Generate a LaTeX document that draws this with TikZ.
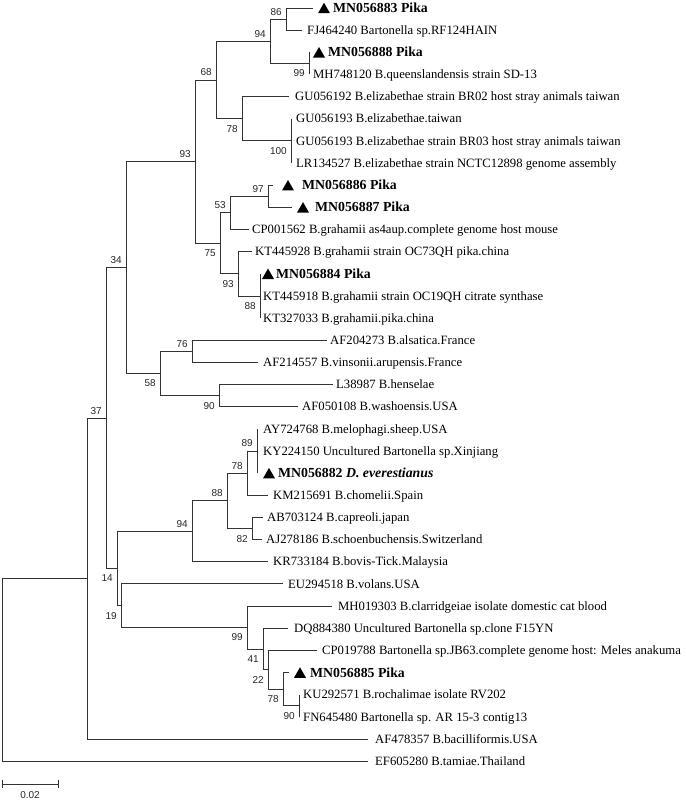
\documentclass[tikz,border=0pt]{standalone}
\usepackage{fontspec}
\setmainfont{Liberation Serif}
\newfontfamily\bsfamily{Liberation Sans}
\newcommand\pikatri[2]{\fill[black] (#1,#2) ++(0,5.25) -- ++(12,0) -- ++(-6,-10.5) -- cycle;}
\begin{document}
\begin{tikzpicture}[x=1pt,y=-1pt,
  br/.style={line width=0.9pt,draw=black!80},
  leaf/.style={anchor=west,inner sep=0pt,font=\fontsize{12.7}{14}\selectfont,text height=8.4pt,text depth=0pt},
  leafb/.style={anchor=west,inner sep=0pt,font=\fontsize{13.8}{15}\selectfont\bfseries,text height=9.1pt,text depth=0pt},
  bs/.style={anchor=east,inner sep=0pt,font=\bsfamily\fontsize{10}{12}\selectfont,text depth=0pt,text=black!85},
  up/.style={shift={(-4,-7.5)}},
  dn/.style={shift={(-4,10)}}]
\useasboundingbox (0,0) rectangle (685,800);
% internal nodes
\coordinate (root) at (2,669.8);
\coordinate (nA) at (87,578.5);
\coordinate (n37) at (106,418.04);
\coordinate (n34) at (126,267.58);
\coordinate (n93a) at (195,161.67);
\coordinate (n68) at (216,79.99);
\coordinate (n94a) at (270,41.23);
\coordinate (n86) at (286,19.08);
\coordinate (n99a) at (309,63.38);
\coordinate (n78a) at (242,118.75);
\coordinate (n100) at (291,140.9);
\coordinate (n75) at (220,243.35);
\coordinate (n53) at (230,212.89);
\coordinate (n97) at (268,196.28);
\coordinate (n93b) at (238,273.8);
\coordinate (n88a) at (260,295.95);
\coordinate (n58) at (160,373.48);
\coordinate (n76) at (192,351.33);
\coordinate (n90a) at (219,395.63);
\coordinate (n14) at (117,568.5);
\coordinate (n94b) at (192,531.3);
\coordinate (n88b) at (227,500.84);
\coordinate (n78b) at (247,473.15);
\coordinate (n89) at (257,451);
\coordinate (n82) at (252,528.53);
\coordinate (n19) at (121,605.7);
\coordinate (n99b) at (247,627.5);
\coordinate (n41) at (263,648.96);
\coordinate (n22) at (268,669.73);
\coordinate (n78c) at (283,689.11);
\coordinate (n90b) at (299,705.73);
% leaf branch ends
\coordinate (e1) at (313,8);
\coordinate (e2) at (302,30.15);
\coordinate (e3) at (309,52.3);
\coordinate (e4) at (309,74.45);
\coordinate (e5) at (289,96.6);
\coordinate (e6) at (291,118.75);
\coordinate (e7) at (291,140.9);
\coordinate (e8) at (291,163.05);
\coordinate (e9) at (273,185.2);
\coordinate (e10) at (292,207.35);
\coordinate (e11) at (249,229.5);
\coordinate (e12) at (252,251.65);
\coordinate (e13) at (260,273.8);
\coordinate (e14) at (260,295.95);
\coordinate (e15) at (260,318.1);
\coordinate (e16) at (327,340.25);
\coordinate (e17) at (258,362.4);
\coordinate (e18) at (333,384.55);
\coordinate (e19) at (298,406.7);
\coordinate (e20) at (257,428.85);
\coordinate (e21) at (257,451);
\coordinate (e22) at (257,473.15);
\coordinate (e23) at (268,495.3);
\coordinate (e24) at (263,517.45);
\coordinate (e25) at (262,539.6);
\coordinate (e26) at (268,561.75);
\coordinate (e27) at (283,583.9);
\coordinate (e28) at (332,606.05);
\coordinate (e29) at (288,628.2);
\coordinate (e30) at (317,650.35);
\coordinate (e31) at (289,672.5);
\coordinate (e32) at (299,694.65);
\coordinate (e33) at (299,716.8);
\coordinate (e34) at (368,738.95);
\coordinate (e35) at (368,761.1);
% branches
\draw[br] (root) |- (nA); \draw[br] (root) |- (e35);
\draw[br] (nA) |- (n37); \draw[br] (nA) |- (e34);
\draw[br] (n37) |- (n34); \draw[br] (n37) |- (n14);
\draw[br] (n34) |- (n93a); \draw[br] (n34) |- (n58);
\draw[br] (n93a) |- (n68); \draw[br] (n93a) |- (n75);
\draw[br] (n68) |- (n94a); \draw[br] (n68) |- (n78a);
\draw[br] (n94a) |- (n86); \draw[br] (n94a) |- (n99a);
\draw[br] (n86) |- (e1); \draw[br] (n86) |- (e2);
\draw[br] (n99a) |- (e3); \draw[br] (n99a) |- (e4);
\draw[br] (n78a) |- (e5); \draw[br] (n78a) |- (n100);
\draw[br] (n100) |- (e6); \draw[br] (n100) |- (e8);
\draw[br] (n75) |- (n53); \draw[br] (n75) |- (n93b);
\draw[br] (n53) |- (n97); \draw[br] (n53) |- (e11);
\draw[br] (n97) |- (e9); \draw[br] (n97) |- (e10);
\draw[br] (n93b) |- (e12); \draw[br] (n93b) |- (n88a);
\draw[br] (n88a) |- (e13); \draw[br] (n88a) |- (e15);
\draw[br] (n58) |- (n76); \draw[br] (n58) |- (n90a);
\draw[br] (n76) |- (e16); \draw[br] (n76) |- (e17);
\draw[br] (n90a) |- (e18); \draw[br] (n90a) |- (e19);
\draw[br] (n14) |- (n94b); \draw[br] (n14) |- (n19);
\draw[br] (n94b) |- (n88b); \draw[br] (n94b) |- (e26);
\draw[br] (n88b) |- (n78b); \draw[br] (n88b) |- (n82);
\draw[br] (n78b) |- (n89); \draw[br] (n78b) |- (e23);
\draw[br] (n89) |- (e20); \draw[br] (n89) |- (e22);
\draw[br] (n82) |- (e24); \draw[br] (n82) |- (e25);
\draw[br] (n19) |- (e27); \draw[br] (n19) |- (n99b);
\draw[br] (n99b) |- (e28); \draw[br] (n99b) |- (n41);
\draw[br] (n41) |- (e29); \draw[br] (n41) |- (n22);
\draw[br] (n22) |- (e30); \draw[br] (n22) |- (n78c);
\draw[br] (n78c) |- (e31); \draw[br] (n78c) |- (n90b);
\draw[br] (n90b) |- (e32); \draw[br] (n90b) |- (e33);
% triangles
\pikatri{318}{8}
\pikatri{313}{52.3}
\pikatri{282}{185.2}
\pikatri{297}{207.35}
\pikatri{262}{273.8}
\pikatri{263}{473.15}
\pikatri{294}{672.5}
% leaf labels
\node[leafb] (L1) at (333,8) {MN056883 Pika};
\node[leaf] (L2) at (307,30.15) {FJ464240 Bartonella sp.RF124HAIN};
\node[leafb] (L3) at (328,52.3) {MN056888 Pika};
\node[leaf] (L4) at (313,74.45) {MH748120 B.queenslandensis strain SD-13};
\node[leaf] (L5) at (295,96.6) {GU056192 B.elizabethae strain BR02 host stray animals taiwan};
\node[leaf] (L6) at (296,118.75) {GU056193 B.elizabethae.taiwan};
\node[leaf] (L7) at (296,140.9) {GU056193 B.elizabethae strain BR03 host stray animals taiwan};
\node[leaf] (L8) at (296,163.05) {LR134527 B.elizabethae strain NCTC12898 genome assembly};
\node[leafb] (L9) at (302,185.2) {MN056886 Pika};
\node[leafb] (L10) at (315,207.35) {MN056887 Pika};
\node[leaf] (L11) at (252,229.5) {CP001562 B.grahamii as4aup.complete genome host mouse};
\node[leaf] (L12) at (255,251.65) {KT445928 B.grahamii strain OC73QH pika.china};
\node[leafb] (L13) at (276,273.8) {MN056884 Pika};
\node[leaf] (L14) at (263,295.95) {KT445918 B.grahamii strain OC19QH citrate synthase};
\node[leaf] (L15) at (263,318.1) {KT327033 B.grahamii.pika.china};
\node[leaf] (L16) at (330,340.25) {AF204273 B.alsatica.France};
\node[leaf] (L17) at (263,362.4) {AF214557 B.vinsonii.arupensis.France};
\node[leaf] (L18) at (336,384.55) {L38987 B.henselae};
\node[leaf] (L19) at (302,406.7) {AF050108 B.washoensis.USA};
\node[leaf] (L20) at (263,428.85) {AY724768 B.melophagi.sheep.USA};
\node[leaf] (L21) at (263,451) {KY224150 Uncultured Bartonella sp.Xinjiang};
\node[leafb] (L22) at (278,473.15) {MN056882 \textit{D. everestianus}};
\node[leaf] (L23) at (273,495.3) {KM215691 B.chomelii.Spain};
\node[leaf] (L24) at (267,517.45) {AB703124 B.capreoli.japan};
\node[leaf] (L25) at (266,539.6) {AJ278186 B.schoenbuchensis.Switzerland};
\node[leaf] (L26) at (273,561.75) {KR733184 B.bovis-Tick.Malaysia};
\node[leaf] (L27) at (288,583.9) {EU294518 B.volans.USA};
\node[leaf] (L28) at (338,606.05) {MH019303 B.clarridgeiae isolate domestic cat blood};
\node[leaf] (L29) at (294,628.2) {DQ884380 Uncultured Bartonella sp.clone F15YN};
\node[leaf] (L30) at (322,650.35) {CP019788 Bartonella sp.JB63.complete genome host: Meles anakuma};
\node[leafb] (L31) at (310,672.5) {MN056885 Pika};
\node[leaf] (L32) at (303,694.65) {KU292571 B.rochalimae isolate RV202};
\node[leaf] (L33) at (303,716.8) {FN645480 Bartonella sp. AR 15-3 contig13};
\node[leaf] (L34) at (375,738.95) {AF478357 B.bacilliformis.USA};
\node[leaf] (L35) at (375,761.1) {EF605280 B.tamiae.Thailand};
% bootstrap values
\node[bs] (b86) at ([up]n86) {86};
\node[bs] (b94a) at ([up]n94a) {94};
\node[bs] (b68) at ([up]n68) {68};
\node[bs] (b93a) at ([up]n93a) {93};
\node[bs] (b34) at ([up]n34) {34};
\node[bs] (b97) at ([up]n97) {97};
\node[bs] (b53) at ([up]n53) {53};
\node[bs] (b76) at ([up]n76) {76};
\node[bs] (b37) at ([up]n37) {37};
\node[bs] (b94b) at ([up]n94b) {94};
\node[bs] (b88b) at ([up]n88b) {88};
\node[bs] (b78b) at ([up]n78b) {78};
\node[bs] (b89) at ([up]n89) {89};
\node[bs] (b99a) at ([dn]n99a) {99};
\node[bs] (b78a) at ([dn]n78a) {78};
\node[bs] (b100) at ([dn]n100) {100};
\node[bs] (b75) at ([dn]n75) {75};
\node[bs] (b93b) at ([dn]n93b) {93};
\node[bs] (b88a) at ([dn]n88a) {88};
\node[bs] (b58) at ([dn]n58) {58};
\node[bs] (b90a) at ([dn]n90a) {90};
\node[bs] (b14) at ([dn]n14) {14};
\node[bs] (b19) at ([dn]n19) {19};
\node[bs] (b82) at ([dn]n82) {82};
\node[bs] (b99b) at ([dn]n99b) {99};
\node[bs] (b41) at ([dn]n41) {41};
\node[bs] (b22) at ([dn]n22) {22};
\node[bs] (b78c) at ([dn]n78c) {78};
\node[bs] (b90b) at ([dn]n90b) {90};
% scale bar
\coordinate (sb1) at (2,784);
\coordinate (sb2) at (58,784);
\draw[br] (sb1) -- (sb2);
\draw[br] ([yshift=-4pt]sb1) -- ([yshift=4pt]sb1);
\draw[br] ([yshift=-4pt]sb2) -- ([yshift=4pt]sb2);
\node[bs,anchor=center] (sbl) at (30,795) {0.02};
\end{tikzpicture}
\end{document}
